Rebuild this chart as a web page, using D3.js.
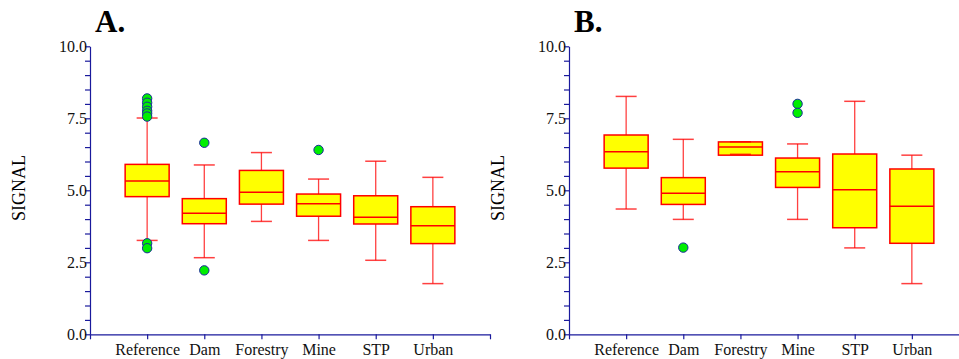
<!DOCTYPE html>
<html><head><meta charset="utf-8">
<script src="https://cdn.jsdelivr.net/npm/d3@7"></script>
<style>body{margin:0;background:#fff}svg{display:block}</style>
</head><body>
<script>
const categories = ["Reference","Dam","Forestry","Mine","STP","Urban"];
const yTicks = d3.range(0, 10.01, 0.5);
const yLabels = [0, 2.5, 5, 7.5, 10];

const aLow  = [3.26, 2.66, 3.92, 3.26, 2.57, 1.76];
const aQ1   = [4.78, 3.84, 4.52, 4.10, 3.83, 3.15];
const aMed  = [5.32, 4.20, 4.93, 4.53, 4.06, 3.77];
const aQ3   = [5.90, 4.71, 5.69, 4.87, 4.81, 4.43];
const aHigh = [7.51, 5.88, 6.31, 5.39, 6.01, 5.45];
const aOut  = [[8.19, 8.04, 7.90, 7.76, 7.67, 7.56, 3.16, 2.99], [6.65, 2.22], [], [6.40], [], []];

const bLow  = [4.35, 3.99, 6.25, 3.99, 3.00, 1.76];
const bQ1   = [5.77, 4.51, 6.22, 5.10, 3.70, 3.16];
const bMed  = [6.34, 4.90, 6.50, 5.64, 5.02, 4.45];
const bQ3   = [6.92, 5.44, 6.68, 6.12, 6.26, 5.74];
const bHigh = [8.26, 6.77, 6.68, 6.61, 8.09, 6.22];
const bOut  = [[], [3.01], [], [8.00, 7.69], [], []];

const W = 959, H = 359;
const svg = d3.select("body").append("svg").attr("width", W).attr("height", H)
  .attr("font-family", "Liberation Serif");
const axisColor = "#1a1a9c";

function panel(x0, title, low, q1, med, q3, high, outs) {
  const x = d3.scaleLinear().domain([0, 7]).range([x0, x0 + 400]);
  const y = d3.scaleLinear().domain([0, 10]).range([334.3, 46.3]);
  const g = svg.append("g");

  g.append("text").attr("x", x0 + 5).attr("y", 32)
    .attr("font-weight", "bold").attr("font-size", 31)
    .text(title);

  g.append("text").attr("transform", `translate(${x0 - 65},188) rotate(-90)`)
    .attr("text-anchor", "middle").attr("font-size", 18)
    .text("SIGNAL");

  const ya = g.append("g").attr("transform", `translate(${x0},0)`)
    .call(d3.axisLeft(y).tickValues(yTicks).tickSize(5).tickSizeOuter(0)
      .tickFormat(d => yLabels.some(v => Math.abs(v - d) < 1e-6) ? d.toFixed(1) : ""));
  const xa = g.append("g").attr("transform", `translate(0,${y(0)})`)
    .call(d3.axisBottom(x).tickValues(d3.range(0, 8)).tickSize(5).tickSizeOuter(0)
      .tickFormat(d => (d >= 1 && d <= 6) ? categories[d - 1] : ""));
  [ya, xa].forEach(a => {
    a.attr("font-family", null).attr("font-size", 16);
    a.selectAll("path,line").attr("stroke", axisColor).attr("stroke-width", 1.2);
    a.selectAll("text").attr("fill", "#111");
  });
  ya.selectAll("text").attr("x", -3).attr("dy", "0.35em");
  xa.selectAll("text").attr("dy", "0.71em").attr("y", 9);

  const bw = 44, cw = 21;
  const red = "#ff0000";
  categories.forEach((c, i) => {
    const cx = x(i + 1);
    g.append("line").attr("x1", cx).attr("x2", cx).attr("y1", y(low[i])).attr("y2", y(high[i]))
      .attr("stroke", red).attr("stroke-width", 1.3).attr("stroke-opacity", 0.75);
    [low[i], high[i]].forEach(v => {
      g.append("line").attr("x1", cx - cw / 2).attr("x2", cx + cw / 2).attr("y1", y(v)).attr("y2", y(v))
        .attr("stroke", red).attr("stroke-width", 1.5).attr("stroke-opacity", 0.75);
    });
    g.append("rect").attr("x", cx - bw / 2).attr("width", bw)
      .attr("y", y(q3[i])).attr("height", y(q1[i]) - y(q3[i]))
      .attr("fill", "#ffff00").attr("stroke", red).attr("stroke-width", 1.5);
    if (low[i] > q1[i]) {
      [low[i], high[i]].forEach(v => {
        g.append("line").attr("x1", cx - cw / 2).attr("x2", cx + cw / 2).attr("y1", y(v)).attr("y2", y(v))
          .attr("stroke", red).attr("stroke-width", 1.5).attr("stroke-opacity", 0.75);
      });
    }
    g.append("line").attr("x1", cx - bw / 2).attr("x2", cx + bw / 2).attr("y1", y(med[i])).attr("y2", y(med[i]))
      .attr("stroke", red).attr("stroke-width", 1.5);
    outs[i].forEach(v => {
      g.append("circle").attr("cx", cx).attr("cy", y(v)).attr("r", 4.7)
        .attr("fill", "#00ee00").attr("stroke", "#1a2a9c").attr("stroke-width", 1);
    });
  });
}

panel(90, "A.", aLow, aQ1, aMed, aQ3, aHigh, aOut);
panel(569, "B.", bLow, bQ1, bMed, bQ3, bHigh, bOut);
</script>
</body></html>
